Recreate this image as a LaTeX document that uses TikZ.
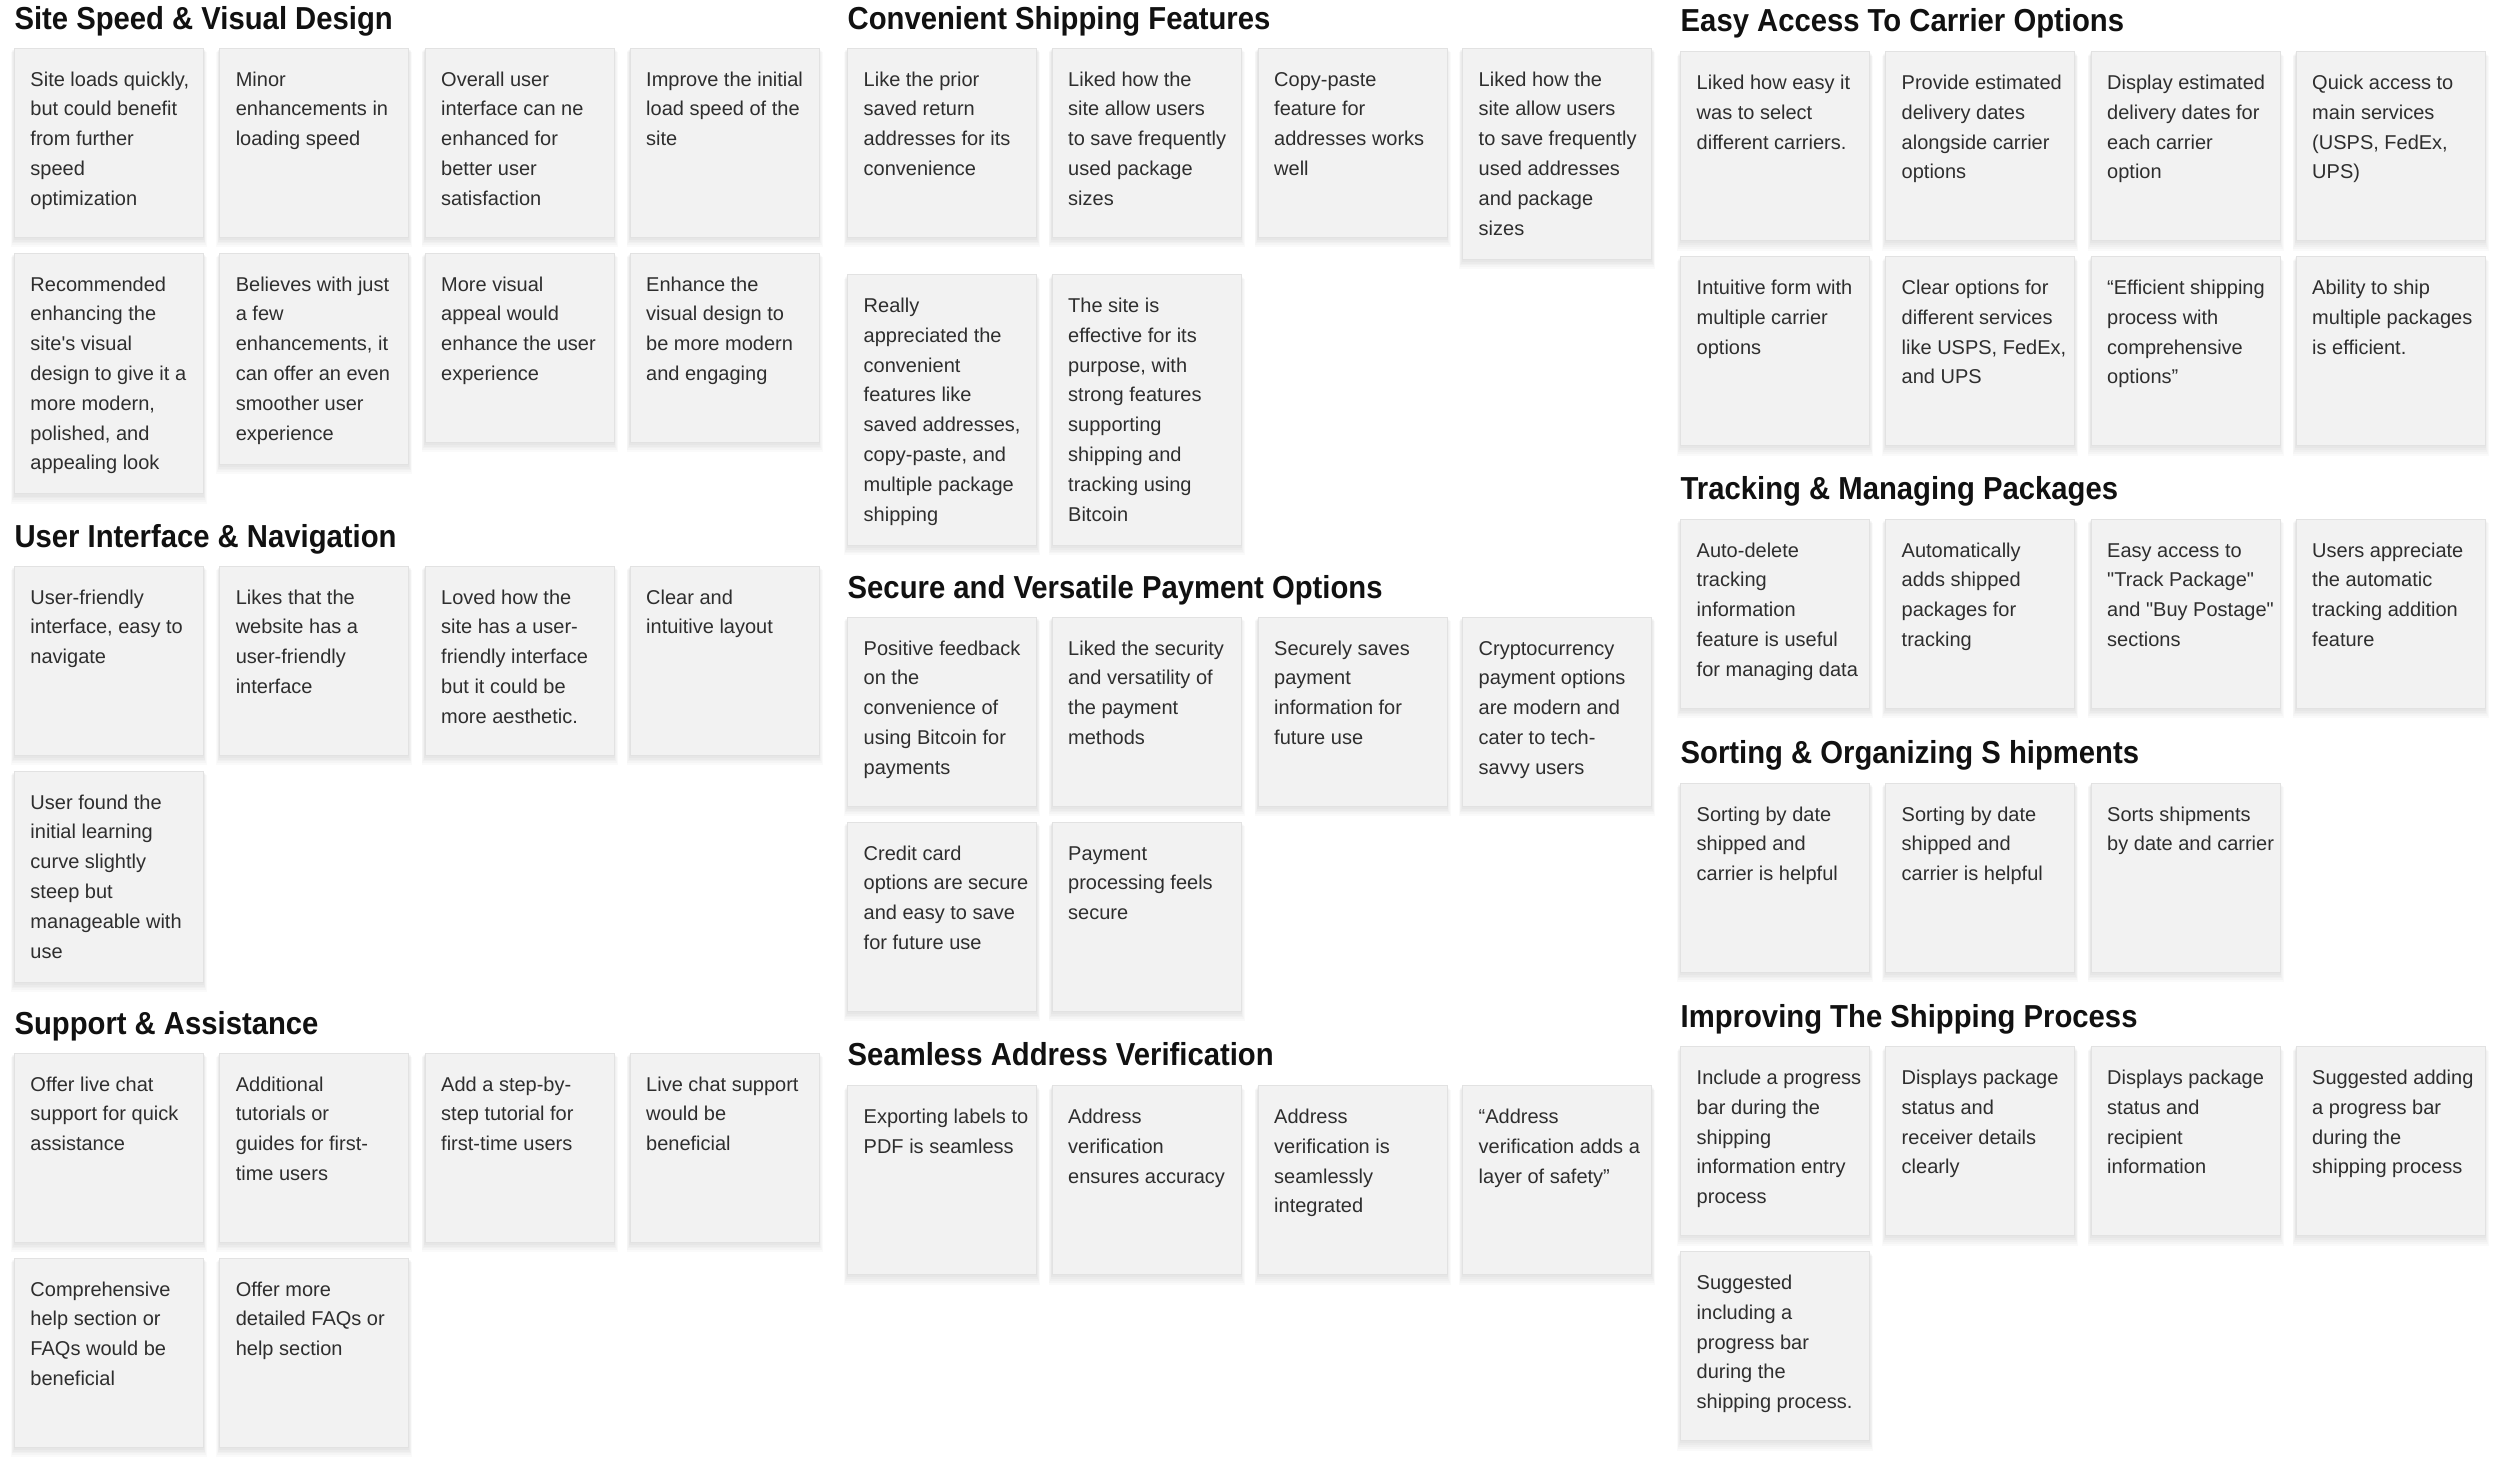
\documentclass[tikz,border=0pt]{standalone}
\usepackage{fontspec}
\setmainfont{Liberation Sans}[Ligatures=TeXOff]
\newfontfamily\titlefont{Liberation Sans}[Ligatures=TeXOff,FakeStretch=0.92]
\definecolor{cardfill}{HTML}{F2F2F2}
\definecolor{cardline}{HTML}{E2E2E2}
\definecolor{bodytext}{HTML}{2E2E2E}
\definecolor{titletext}{HTML}{111111}
\tikzset{
  cardbox/.style={draw=cardline, fill=cardfill, line width=0.8pt, rectangle, inner sep=0pt, outer sep=0pt, minimum width=189pt},
  cardtext/.style={inner sep=0pt, text=bodytext, font=\fontsize{20}{29.8}\selectfont},
  grouptitle/.style={inner sep=0pt, text=titletext, font=\titlefont\bfseries\fontsize{31.8}{36}\selectfont, anchor=base west},
}
\newcommand\card[5]{%
  \foreach \k in {1,...,5}{%
    \fill[black,opacity=0.02] (#2-\k*0.7,#3+\k*0.8) rectangle (#2+189+\k*0.7,#3+#4+1+\k*1.8);
  }%
  \node[cardbox, minimum height=#4pt, anchor=north west] (#1) at (#2,#3) {};
  \node[cardtext, anchor=base west] (#1-t) at (#2+16,#3+38) {\parbox[t]{260pt}{\raggedright #5}};
}
\begin{document}
\begin{tikzpicture}[x=1pt,y=-1pt]
\useasboundingbox (0,0) rectangle (2500,1473);
\fill[white] (0,0) rectangle (2500,1473);

% ---------------- Column 1 ----------------
\node[grouptitle] (t11) at (14.3,29.5) {Site Speed \& Visual Design};
\card{a1}{14.3}{48}{189}{Site loads quickly,\\but could benefit\\from further\\speed\\optimization}
\card{a2}{219.6}{48}{189}{Minor\\enhancements in\\loading speed}
\card{a3}{425}{48}{189}{Overall user\\interface can ne\\enhanced for\\better user\\satisfaction}
\card{a4}{630}{48}{189}{Improve the initial\\load speed of the\\site}
\card{a5}{14.3}{253}{240.8}{Recommended\\enhancing the\\site's visual\\design to give it a\\more modern,\\polished, and\\appealing look}
\card{a6}{219.6}{253}{211}{Believes with just\\a few\\enhancements, it\\can offer an even\\smoother user\\experience}
\card{a7}{425}{253}{189}{More visual\\appeal would\\enhance the user\\experience}
\card{a8}{630}{253}{189}{Enhance the\\visual design to\\be more modern\\and engaging}

\node[grouptitle] (t12) at (14.3,547) {User Interface \& Navigation};
\card{b1}{14.3}{566}{189}{User-friendly\\interface, easy to\\navigate}
\card{b2}{219.6}{566}{189}{Likes that the\\website has a\\user-friendly\\interface}
\card{b3}{425}{566}{189}{Loved how the\\site has a user-\\friendly interface\\but it could be\\more aesthetic.}
\card{b4}{630}{566}{189}{Clear and\\intuitive layout}
\card{b5}{14.3}{771}{211}{User found the\\initial learning\\curve slightly\\steep but\\manageable with\\use}

\node[grouptitle] (t13) at (14.3,1034.5) {Support \& Assistance};
\card{c1}{14.3}{1053}{189}{Offer live chat\\support for quick\\assistance}
\card{c2}{219.6}{1053}{189}{Additional\\tutorials or\\guides for first-\\time users}
\card{c3}{425}{1053}{189}{Add a step-by-\\step tutorial for\\first-time users}
\card{c4}{630}{1053}{189}{Live chat support\\would be\\beneficial}
\card{c5}{14.3}{1258}{189}{Comprehensive\\help section or\\FAQs would be\\beneficial}
\card{c6}{219.6}{1258}{189}{Offer more\\detailed FAQs or\\help section}

% ---------------- Column 2 ----------------
\node[grouptitle] (t21) at (847.5,29.5) {Convenient Shipping Features};
\card{d1}{847.5}{48}{189}{Like the prior\\saved return\\addresses for its\\convenience}
\card{d2}{1052}{48}{189}{Liked how the\\site allow users\\to save frequently\\used package\\sizes}
\card{d3}{1258}{48}{189}{Copy-paste\\feature for\\addresses works\\well}
\card{d4}{1462.5}{48}{211}{Liked how the\\site allow users\\to save frequently\\used addresses\\and package\\sizes}
\card{d5}{847.5}{274.5}{270.6}{Really\\appreciated the\\convenient\\features like\\saved addresses,\\copy-paste, and\\multiple package\\shipping}
\card{d6}{1052}{274.5}{270.6}{The site is\\effective for its\\purpose, with\\strong features\\supporting\\shipping and\\tracking using\\Bitcoin}

\node[grouptitle] (t22) at (847.5,598) {Secure and Versatile Payment Options};
\card{e1}{847.5}{617}{189}{Positive feedback\\on the\\convenience of\\using Bitcoin for\\payments}
\card{e2}{1052}{617}{189}{Liked the security\\and versatility of\\the payment\\methods}
\card{e3}{1258}{617}{189}{Securely saves\\payment\\information for\\future use}
\card{e4}{1462.5}{617}{189}{Cryptocurrency\\payment options\\are modern and\\cater to tech-\\savvy users}
\card{e5}{847.5}{822}{189}{Credit card\\options are secure\\and easy to save\\for future use}
\card{e6}{1052}{822}{189}{Payment\\processing feels\\secure}

\node[grouptitle] (t23) at (847.5,1065.5) {Seamless Address Verification};
\card{f1}{847.5}{1085.5}{189}{Exporting labels to\\PDF is seamless}
\card{f2}{1052}{1085.5}{189}{Address\\verification\\ensures accuracy}
\card{f3}{1258}{1085.5}{189}{Address\\verification is\\seamlessly\\integrated}
\card{f4}{1462.5}{1085.5}{189}{“Address\\verification adds a\\layer of safety”}

% ---------------- Column 3 ----------------
\node[grouptitle] (t31) at (1680.5,31) {Easy Access To Carrier Options};
\card{g1}{1680.5}{51.5}{189}{Liked how easy it\\was to select\\different carriers.}
\card{g2}{1885.5}{51.5}{189}{Provide estimated\\delivery dates\\alongside carrier\\options}
\card{g3}{2091}{51.5}{189}{Display estimated\\delivery dates for\\each carrier\\option}
\card{g4}{2296}{51.5}{189}{Quick access to\\main services\\(USPS, FedEx,\\UPS)}
\card{g5}{1680.5}{256.5}{189}{Intuitive form with\\multiple carrier\\options}
\card{g6}{1885.5}{256.5}{189}{Clear options for\\different services\\like USPS, FedEx,\\and UPS}
\card{g7}{2091}{256.5}{189}{“Efficient shipping\\process with\\comprehensive\\options”}
\card{g8}{2296}{256.5}{189}{Ability to ship\\multiple packages\\is efficient.}

\node[grouptitle] (t32) at (1680.5,499.5) {Tracking \& Managing Packages};
\card{h1}{1680.5}{519}{189}{Auto-delete\\tracking\\information\\feature is useful\\for managing data}
\card{h2}{1885.5}{519}{189}{Automatically\\adds shipped\\packages for\\tracking}
\card{h3}{2091}{519}{189}{Easy access to\\"Track Package"\\and "Buy Postage"\\sections}
\card{h4}{2296}{519}{189}{Users appreciate\\the automatic\\tracking addition\\feature}

\node[grouptitle] (t33) at (1680.5,763.5) {Sorting \& Organizing S hipments};
\card{i1}{1680.5}{783}{189}{Sorting by date\\shipped and\\carrier is helpful}
\card{i2}{1885.5}{783}{189}{Sorting by date\\shipped and\\carrier is helpful}
\card{i3}{2091}{783}{189}{Sorts shipments\\by date and carrier}

\node[grouptitle] (t34) at (1680.5,1027.5) {Improving The Shipping Process};
\card{j1}{1680.5}{1046.5}{189}{Include a progress\\bar during the\\shipping\\information entry\\process}
\card{j2}{1885.5}{1046.5}{189}{Displays package\\status and\\receiver details\\clearly}
\card{j3}{2091}{1046.5}{189}{Displays package\\status and\\recipient\\information}
\card{j4}{2296}{1046.5}{189}{Suggested adding\\a progress bar\\during the\\shipping process}
\card{j5}{1680.5}{1251.5}{189}{Suggested\\including a\\progress bar\\during the\\shipping process.}
\end{tikzpicture}
\end{document}
